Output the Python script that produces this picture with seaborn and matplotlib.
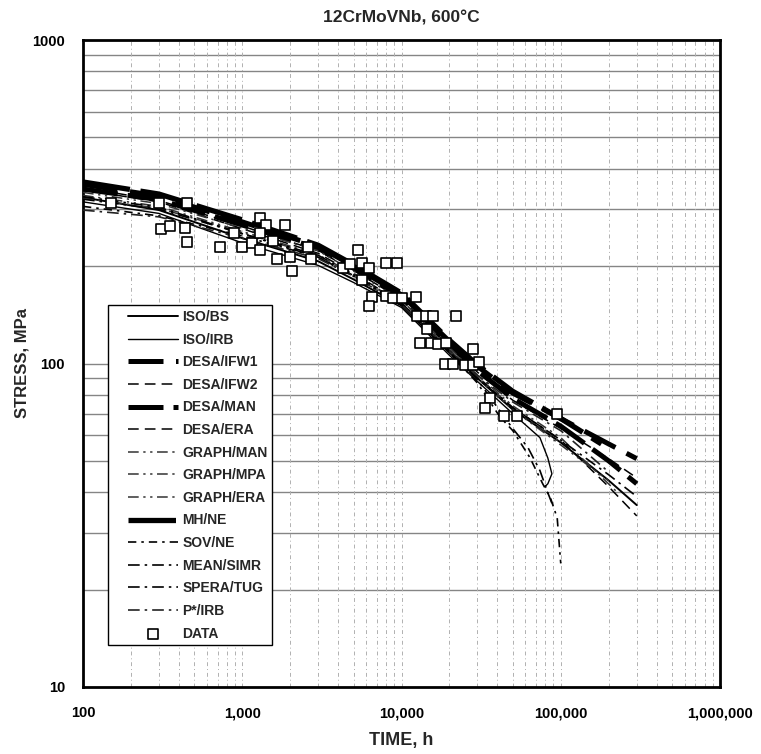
import numpy as np
import pandas as pd
import matplotlib
matplotlib.use("Agg")
import matplotlib.pyplot as plt
import seaborn as sns
from matplotlib.patches import Rectangle
from matplotlib.ticker import FixedLocator, NullFormatter, FixedFormatter

sns.set_theme(style="white")
plt.rcParams['font.family'] = ['Liberation Sans', 'DejaVu Sans']
plt.rcParams['font.weight'] = 'bold'

# ---------------- data (time in h, stress in MPa) ----------------
data_time = [150, 300, 450, 310, 350, 440, 450, 720, 890, 1000,
             1150, 1300, 1400, 1300, 1300, 1550, 1650, 1850, 2000, 2050,
             2600, 2700, 4300, 4750, 5300, 5650, 6250, 5650, 6500, 6250,
             8000, 9400, 8000, 8850, 10000, 12300, 12500, 14200, 15800, 22000,
             14500, 13000, 15300, 17000, 19000, 28000, 18700, 21000, 25000, 28000,
             30700, 36000, 33400, 44000, 53000, 95000]
data_stress = [313, 313, 313, 260, 266, 262, 237, 229, 253, 229,
               235, 281, 268, 253, 224, 239, 210, 268, 213, 193,
               229, 210, 198, 203, 224, 204, 198, 181, 161, 151,
               204, 204, 162, 159, 159, 161, 140, 140, 140, 140,
               128, 116, 116, 115, 116, 111, 100, 100, 99, 99,
               101, 78.5, 73, 69, 69, 70]

t_std = [100, 300, 1000, 3000, 5000, 10000, 20000, 30000, 50000, 100000, 200000, 300000]

iso_bs_t = t_std
iso_bs_s = [326, 298, 244, 207, 182, 151, 108, 90, 72, 57, 43.5, 36.5]

iso_irb_t = [100, 300, 1000, 3000, 5000, 10000, 20000, 30000, 50000, 74000, 83000, 88000, 83000, 79600]
iso_irb_s = [316, 291, 236, 201, 178, 149, 106, 88, 70, 59, 51, 45.6, 42.5, 41.6]

desa_ifw1_t = t_std
desa_ifw1_s = [358, 329, 274, 230, 200, 163, 117, 98, 81, 67.6, 56.4, 50.8]

desa_ifw2_t = t_std
desa_ifw2_s = [350, 319, 266, 223, 194, 158, 113, 94, 77, 63, 50.8, 44.3]

desa_man_t = t_std
desa_man_s = [346, 321, 268, 227, 197, 160, 114, 95, 78, 64, 50, 42.5]

desa_era_t = t_std
desa_era_s = [344, 316, 261, 219, 190, 154, 110, 91, 73, 58, 41.6, 33.8]

graph_man_t = [100, 300, 1000, 3000, 5000, 10000, 20000, 30000, 50000, 100000, 230000]
graph_man_s = [338, 312, 262, 223, 193, 157, 112, 92, 74, 59, 39.7]

graph_mpa_t = [100, 300, 1000, 3000, 5000, 10000, 20000, 30000, 50000, 100000, 200000]
graph_mpa_s = [331, 306, 256, 217, 189, 154, 109, 90, 72, 56, 43.4]

graph_era_t = [100, 300, 1000, 3000, 5000, 10000, 20000, 30000, 50000, 100000]
graph_era_s = [324, 302, 254, 215, 187, 154, 110, 91, 73, 57]

mh_ne_t = [100, 300, 1000, 3000, 5000, 10000, 20000, 30000, 50000, 100000, 180000]
mh_ne_s = [364, 334, 278, 232, 202, 165, 118, 99, 82, 67.6, 56.4]

sov_ne_t = [100, 300, 1000, 3000, 5000, 10000, 20000, 30000, 41500, 50000, 64000, 77000, 86000, 95000, 100000]
sov_ne_s = [306, 286, 248, 213, 187, 152, 108, 87, 68.4, 62, 51.2, 42.5, 38.5, 33.3, 24.1]

mean_simr_t = [100, 300, 1000, 3000, 5000, 10000, 20000, 30000, 49400, 62200, 74100, 83200, 89300]
mean_simr_s = [322, 300, 252, 216, 188, 154, 109, 89, 63.4, 55, 46.6, 39.7, 36.3]

spera_tug_t = t_std
spera_tug_s = [328, 304, 252, 213, 186, 152, 108, 90, 73, 58, 45.3, 38.8]

p_irb_t = [100, 300, 1000, 3000, 5000, 10000, 20000, 30000, 50000, 100000, 200000]
p_irb_s = [298, 284, 244, 211, 186, 152, 110, 92, 76, 62, 46.2]

x_tick_vals = [100, 1000, 10000, 100000, 1000000]
x_tick_labels = ["100", "1,000", "10,000", "100,000", "1,000,000"]
y_tick_vals = [10, 100, 1000]
y_tick_labels = ["10", "100", "1000"]

# ---------------- styles ----------------
models = [
    ("ISO/BS", iso_bs_t, iso_bs_s, dict(color="black", lw=1.4, ls="-")),
    ("ISO/IRB", iso_irb_t, iso_irb_s, dict(color="black", lw=1.0, ls="-")),
    ("DESA/IFW1", desa_ifw1_t, desa_ifw1_s, dict(color="black", lw=3.6, ls=(0, (7, 2.5)))),
    ("DESA/IFW2", desa_ifw2_t, desa_ifw2_s, dict(color="black", lw=1.1, ls=(0, (7, 4)))),
    ("DESA/MAN", desa_man_t, desa_man_s, dict(color="black", lw=3.6, ls=(0, (7, 2)))),
    ("DESA/ERA", desa_era_t, desa_era_s, dict(color="black", lw=1.1, ls=(0, (7, 4)))),
    ("GRAPH/MAN", graph_man_t, graph_man_s, dict(color="#333333", lw=1.1, ls=(0, (7, 3, 1.5, 3, 1.5, 3)))),
    ("GRAPH/MPA", graph_mpa_t, graph_mpa_s, dict(color="#333333", lw=1.1, ls=(0, (7, 3, 1.5, 3, 1.5, 3)))),
    ("GRAPH/ERA", graph_era_t, graph_era_s, dict(color="#333333", lw=1.1, ls=(0, (7, 3, 1.5, 3, 1.5, 3)))),
    ("MH/NE", mh_ne_t, mh_ne_s, dict(color="black", lw=3.8, ls=(0, (9, 2)))),
    ("SOV/NE", sov_ne_t, sov_ne_s, dict(color="black", lw=1.2, ls=(0, (5, 3, 1.5, 3)))),
    ("MEAN/SIMR", mean_simr_t, mean_simr_s, dict(color="black", lw=1.2, ls=(0, (7, 3, 1.5, 3)))),
    ("SPERA/TUG", spera_tug_t, spera_tug_s, dict(color="black", lw=1.2, ls=(0, (7, 3, 1.5, 3)))),
    ("P*/IRB", p_irb_t, p_irb_s, dict(color="#222222", lw=1.2, ls=(0, (7, 3, 1.5, 3)))),
]

W, H = 761, 754
fig = plt.figure(figsize=(W / 100, H / 100), dpi=100)
ax_l, ax_r, ax_t, ax_b = 83, 720, 40, 687
ax = fig.add_axes([ax_l / W, 1 - ax_b / H, (ax_r - ax_l) / W, (ax_b - ax_t) / H])
ax.set_xscale("log")
ax.set_yscale("log")
ax.set_xlim(100, 1e6)
ax.set_ylim(10, 1000)

# grid
for dec in [10, 100]:
    for k in range(1, 10):
        v = dec * k
        if 10 < v < 1000:
            ax.axhline(v, color="#858585", lw=1.0, zorder=0.5)
for dec in [100, 1000, 10000, 100000]:
    for k in range(1, 10):
        v = dec * k
        if 100 < v < 1e6:
            ax.axvline(v, color="#b0b0b0", lw=0.7, ls=(0, (4, 3, 1, 3)), zorder=0.5)

for name, t, s, st in models:
    df = pd.DataFrame({"t": t, "s": s})
    sns.lineplot(data=df, x="t", y="s", ax=ax, sort=False, estimator=None,
                 color=st["color"], linewidth=st["lw"], linestyle=st["ls"],
                 label=name, zorder=3)

ddf = pd.DataFrame({"t": data_time, "s": data_stress})
sns.scatterplot(data=ddf, x="t", y="s", ax=ax, marker="s", s=48,
                facecolor="white", edgecolor="black", linewidth=1.2,
                label="DATA", zorder=6)

# ticks
ax.xaxis.set_major_locator(FixedLocator(x_tick_vals))
ax.xaxis.set_major_formatter(FixedFormatter(x_tick_labels))
ax.xaxis.set_minor_formatter(NullFormatter())
ax.yaxis.set_major_locator(FixedLocator(y_tick_vals))
ax.yaxis.set_major_formatter(FixedFormatter(y_tick_labels))
ax.yaxis.set_minor_formatter(NullFormatter())
ax.tick_params(axis="both", which="major", direction="in", length=5, width=1,
               labelsize=10.5, colors="black")
ax.tick_params(axis="both", which="minor", direction="in", length=3, width=0.8)
ax.tick_params(axis="x", which="major", pad=14)
ax.tick_params(axis="y", which="major", pad=13)
for lab in ax.get_xticklabels() + ax.get_yticklabels():
    lab.set_fontweight("bold")

for sp in ax.spines.values():
    sp.set_color("black")
    sp.set_linewidth(2)

ax.set_xlabel("")
ax.set_ylabel("")
fig.text((ax_l + ax_r) / 2 / W, 1 - 741 / H, "TIME, h", ha="center", va="center",
         fontsize=13, fontweight="bold")
fig.text(22 / W, 1 - ((ax_t + ax_b) / 2) / H, "STRESS, MPa", ha="center", va="center",
         rotation=90, fontsize=12, fontweight="bold")
fig.text((ax_l + ax_r) / 2 / W, 1 - 18 / H, "12CrMoVNb, 600°C", ha="center", va="center",
         fontsize=12.5, fontweight="bold")

# legend box
bx0, bx1, by0, by1 = 108, 272, 305, 645
rect = Rectangle(((bx0 - ax_l) / (ax_r - ax_l), 1 - (by1 - ax_t) / (ax_b - ax_t)),
                 (bx1 - bx0) / (ax_r - ax_l), (by1 - by0) / (ax_b - ax_t),
                 transform=ax.transAxes, facecolor="white", edgecolor="black",
                 lw=1.0, zorder=4)
ax.add_patch(rect)
handles, labels = ax.get_legend_handles_labels()
leg = ax.legend(handles, labels, loc="upper left",
                bbox_to_anchor=((128 - ax_l) / (ax_r - ax_l), 1 - (310 - ax_t) / (ax_b - ax_t)),
                frameon=False, borderpad=0, borderaxespad=0, handlelength=3.6,
                handletextpad=0.3, labelspacing=0.62, prop={"weight": "bold", "size": 10})
leg.set_zorder(7)

fig.savefig("out.png", dpi=100, facecolor="white")
